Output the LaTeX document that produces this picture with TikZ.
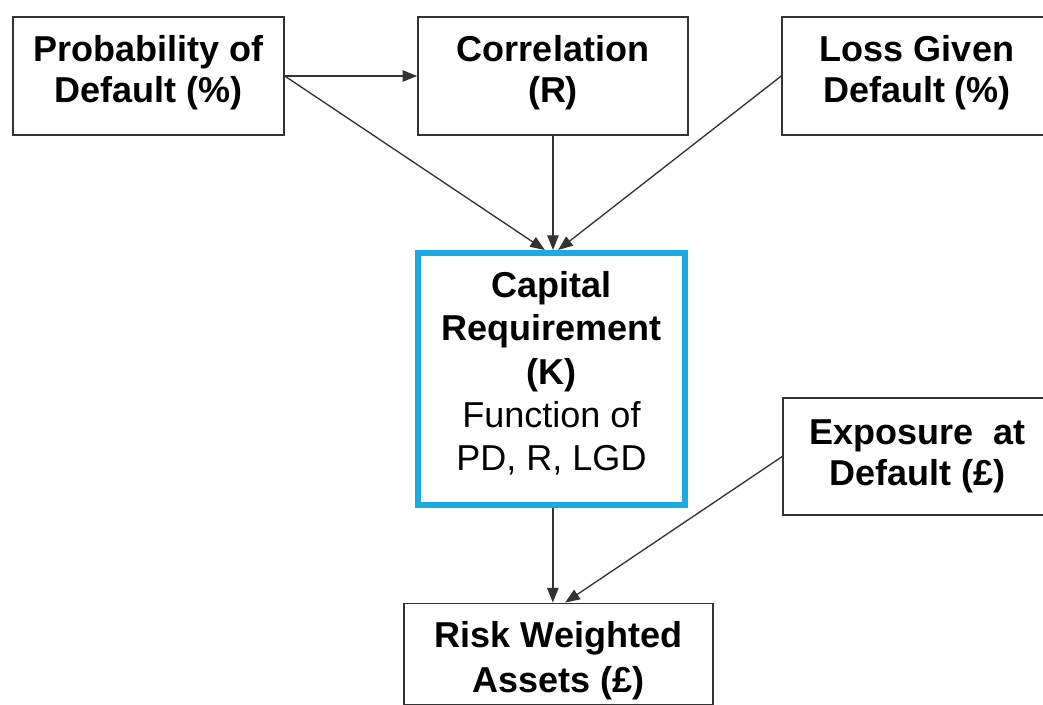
\documentclass[tikz,border=0pt]{standalone}
\usepackage{fontspec}
\setmainfont{Liberation Sans}
\usetikzlibrary{arrows.meta}
\definecolor{capblue}{RGB}{27,170,226}
\begin{document}
\begin{tikzpicture}[x=0.75pt,y=-0.75pt,
  box/.style={draw=black!80,line width=1.1pt,align=center,inner sep=0pt,
    font=\fontsize{27pt}{30.75pt}\selectfont\bfseries},
  capbox/.style={draw=capblue,line width=4.5pt,align=center,inner sep=0pt,
    font=\fontsize{27pt}{32.5pt}\selectfont},
  conn/.style={draw=black!80,line width=1pt,-{Triangle[length=11pt,width=8.5pt]}}]
\useasboundingbox (0,0) rectangle (1043,705);
\fill[white] (0,0) rectangle (1043,705);

\node[box,minimum width=203.25pt,minimum height=88.5pt] (pd) at (148.5,76) {Probability of\\Default (\%)\rule[-10pt]{0pt}{0pt}};
\node[box,minimum width=202.5pt,minimum height=88.5pt] (corr) at (553,76) {Correlation\\(R)\rule[-10pt]{0pt}{0pt}};
\node[box,minimum width=202.5pt,minimum height=88.5pt] (lgd) at (917,76) {Loss Given\\Default (\%)\rule[-10pt]{0pt}{0pt}};
\node[capbox,minimum width=200.25pt,minimum height=189pt] (cap) at (551.5,379)
  {\textbf{Capital}\\\textbf{Requirement}\\\textbf{(K)}\\Function of\\PD, R, LGD\rule[-12pt]{0pt}{0pt}};
\node[box,minimum width=201.75pt,minimum height=87.75pt] (ead) at (917.5,456.5) {Exposure\ \ at\\Default (£)};
\node[box,minimum width=231.75pt,minimum height=76pt,font=\fontsize{27pt}{34pt}\selectfont\bfseries] (rwa) at (558.5,654) {\rule{0pt}{30pt}Risk Weighted\\Assets (£)};

\draw[conn] (pd.east) -- (corr.west);
\draw[conn] (pd.east) -- ([xshift=-5pt]cap.north);
\draw[conn] (corr.south) -- (corr.south |- cap.north);
\draw[conn] (lgd.west) -- ([xshift=5pt]cap.north);
\draw[conn] ([xshift=1pt]cap.south) -- ([xshift=1pt]cap.south |- rwa.north);
\draw[conn] (ead.west) -- ([xshift=5pt]rwa.north);
\end{tikzpicture}
\end{document}
